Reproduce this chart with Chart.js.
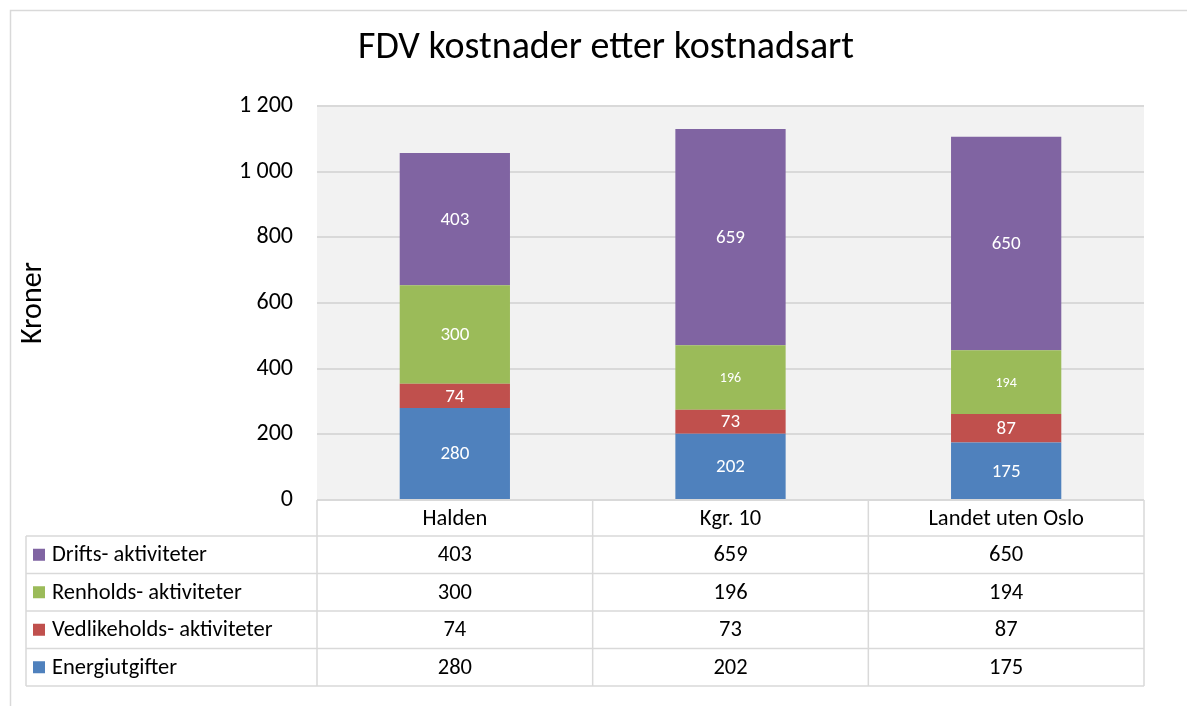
<!DOCTYPE html>
<html>
<head>
<meta charset="utf-8">
<script src="https://cdn.jsdelivr.net/npm/chart.js@4/dist/chart.umd.min.js"></script>
<style>
  html, body { margin: 0; padding: 0; background: #fff; }
  canvas { display: block; }
</style>
</head>
<body>
<canvas id="c" width="1187" height="706"></canvas>
<script>
const categories = ['Halden', 'Kgr. 10', 'Landet uten Oslo'];
const seriesNames = ['Energiutgifter', 'Vedlikeholds- aktiviteter', 'Renholds- aktiviteter', 'Drifts- aktiviteter'];
const energi = [280, 202, 175];
const vedlikehold = [74, 73, 87];
const renhold = [300, 196, 194];
const drift = [403, 659, 650];
const tickLabels = ['0', '200', '400', '600', '800', '1 000', '1 200'];
const seriesColors = ['#4F81BD', '#C0504D', '#9BBB59', '#8064A2'];
const chartTitle = 'FDV kostnader etter kostnadsart';
const yTitle = 'Kroner';

const FONT = 'Carlito, Lato, sans-serif';

const seriesValues = [energi, vedlikehold, renhold, drift];
const labelSizes = [[19, 19, 19], [19, 19, 19], [19, 14, 14], [19, 19, 19]];

const datasets = seriesNames.map((name, i) => ({
  label: name,
  data: seriesValues[i],
  backgroundColor: seriesColors[i],
  borderWidth: 0,
  categoryPercentage: 1,
  barPercentage: 0.4
}));

const tablePlugin = {
  id: 'tablePlugin',
  beforeDraw(chart) {
    const ctx = chart.ctx;
    const a = chart.chartArea;
    ctx.save();
    ctx.fillStyle = '#fff';
    ctx.fillRect(0, 0, chart.width, chart.height);
    ctx.strokeStyle = '#D9D9D9';
    ctx.lineWidth = 1.5;
    ctx.strokeRect(10.5, 10.5, chart.width + 20, chart.height + 20);
    ctx.fillStyle = '#F2F2F2';
    ctx.fillRect(a.left, a.top, a.right - a.left, a.bottom - a.top);
    ctx.restore();
  },
  afterDraw(chart) {
    const ctx = chart.ctx;
    const a = chart.chartArea;
    const xs = chart.scales.x;
    ctx.save();

    ctx.fillStyle = '#fff';
    ctx.textAlign = 'center';
    ctx.textBaseline = 'middle';
    chart.data.datasets.forEach((ds, di) => {
      const meta = chart.getDatasetMeta(di);
      meta.data.forEach((bar, i) => {
        ctx.font = labelSizes[di][i] + 'px ' + FONT;
        ctx.fillText(String(ds.data[i]), bar.x, (bar.y + bar.base) / 2 + 1);
      });
    });

    ctx.fillStyle = '#000';
    ctx.font = '38px ' + FONT;
    ctx.fillText(chartTitle, 606, 48);

    ctx.save();
    ctx.translate(33, (a.top + a.bottom) / 2);
    ctx.rotate(-Math.PI / 2);
    ctx.font = '30px ' + FONT;
    ctx.fillText(yTitle, 0, 0);
    ctx.restore();

    const legendLeft = 26;
    const headerH = 36;
    const rowH = 37.5;
    const top = a.bottom;
    const rowsTop = top + headerH;
    const nRows = seriesNames.length;
    const tableBottom = rowsTop + nRows * rowH;
    const catW = (a.right - a.left) / categories.length;

    ctx.strokeStyle = '#D9D9D9';
    ctx.lineWidth = 1.5;
    ctx.beginPath();
    ctx.moveTo(a.left, top); ctx.lineTo(a.right, top);
    for (let r = 0; r <= nRows; r++) {
      const y = rowsTop + r * rowH;
      ctx.moveTo(legendLeft, y); ctx.lineTo(a.right, y);
    }
    ctx.moveTo(legendLeft, rowsTop); ctx.lineTo(legendLeft, tableBottom);
    for (let c = 0; c <= categories.length; c++) {
      const x = a.left + c * catW;
      ctx.moveTo(x, top); ctx.lineTo(x, tableBottom);
    }
    ctx.stroke();

    ctx.fillStyle = '#000';
    ctx.font = '22.5px ' + FONT;
    ctx.textAlign = 'center';
    categories.forEach((cat, i) => {
      ctx.fillText(cat, xs.getPixelForValue(i), top + headerH / 2 + 1);
    });

    for (let r = 0; r < nRows; r++) {
      const si = nRows - 1 - r;
      const yc = rowsTop + r * rowH + rowH / 2;
      ctx.fillStyle = seriesColors[si];
      ctx.fillRect(33, yc - 6, 12, 12);
      ctx.fillStyle = '#000';
      ctx.textAlign = 'left';
      ctx.fillText(seriesNames[si], 52, yc + 1);
      ctx.textAlign = 'center';
      seriesValues[si].forEach((v, i) => {
        ctx.fillText(String(v), xs.getPixelForValue(i), yc + 1);
      });
    }
    ctx.restore();
  }
};

new Chart(document.getElementById('c'), {
  type: 'bar',
  data: { labels: categories, datasets },
  options: {
    responsive: false,
    animation: false,
    layout: { padding: { left: 0, top: 106, right: 43, bottom: 206 } },
    plugins: {
      legend: { display: false },
      title: { display: false },
      tooltip: { enabled: false }
    },
    scales: {
      x: {
        stacked: true,
        display: false
      },
      y: {
        stacked: true,
        min: 0,
        max: 1200,
        afterFit(scale) { scale.width = 317; },
        afterBuildTicks(scale) {
          scale.ticks = tickLabels.map((t, i) => ({ value: i * 200 }));
        },
        ticks: {
          stepSize: 200,
          padding: 24,
          color: '#000',
          font: { family: FONT, size: 24 },
          callback: (v, i) => tickLabels[i]
        },
        grid: { color: '#D9D9D9', lineWidth: 2, drawTicks: false },
        border: { display: false }
      }
    }
  },
  plugins: [tablePlugin]
});
</script>
</body>
</html>
